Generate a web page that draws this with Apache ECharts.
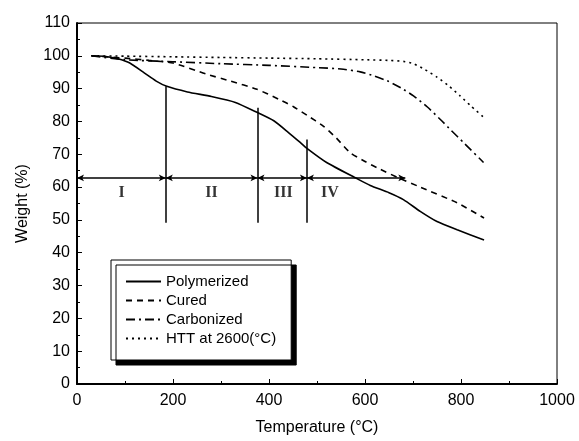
<!DOCTYPE html>
<html>
<head>
<meta charset="utf-8">
<script src="https://cdn.jsdelivr.net/npm/echarts@6/dist/echarts.min.js"></script>
<style>
  html, body { margin: 0; padding: 0; background: #fff; }
  #chart { width: 579px; height: 441px; }
</style>
</head>
<body>
<div id="chart"></div>
<script>
// TGA curves
var polyT = [30, 60, 85, 110, 140, 165, 187, 230, 280, 330, 376, 410, 440, 465, 479, 520, 583, 611, 650, 680, 715, 750, 792, 848];
var polyW = [100, 99.8, 99.1, 97.8, 94.8, 92.3, 90.7, 89, 87.6, 85.8, 82.7, 80.2, 76.7, 73.6, 71.8, 67.5, 62.6, 60.5, 58.3, 56.2, 52.6, 49.5, 47, 43.9];

var curedT = [30, 100, 150, 200, 270, 320, 375, 420, 451, 480, 513, 540, 569, 600, 632, 670, 715, 792, 848];
var curedW = [100, 99.3, 98.6, 97.8, 94.4, 92.3, 89.8, 86.8, 84.5, 81.8, 78.6, 75, 70.5, 67.8, 65.4, 62.8, 60, 55.2, 50.6];

var carbT = [30, 100, 200, 300, 400, 500, 550, 590, 620, 646, 675, 701, 730, 757, 780, 805, 847];
var carbW = [100, 98.8, 98.2, 97.6, 97.1, 96.4, 96, 95.1, 93.8, 92.4, 90.2, 87.8, 84.4, 80.6, 77.2, 73.6, 67.5];

var httT = [30, 100, 200, 300, 400, 500, 600, 650, 680, 701, 725, 750, 775, 798, 820, 848];
var httW = [100, 99.9, 99.7, 99.5, 99.3, 99.1, 98.8, 98.6, 98.3, 97.6, 95.8, 93.5, 90.8, 87.8, 84.8, 81.2];

// stage annotations
var stageEdges = [0, 185, 376, 479, 684];
var dividerTop = [90.7, 84.2, 74.5];
var dividerBottom = 49.1;
var arrowLevel = 62.8;
var stageNames = ['I', 'II', 'III', 'IV'];
var stageLabelX = [93, 280, 430, 527];
var stageLabelY = 58.3;

var seriesNames = ['Polymerized', 'Cured', 'Carbonized', 'HTT at 2600(\u00B0C)'];

function pairs(xs, ys) {
    var out = [];
    for (var i = 0; i < xs.length; i++) out.push([xs[i], ys[i]]);
    return out;
}

function curve(name, xs, ys, dash) {
    return {
        name: name,
        type: 'line',
        data: pairs(xs, ys),
        smooth: 0.2,
        symbol: 'none',
        lineStyle: { color: '#000', width: 1.6, type: dash },
        itemStyle: { color: '#000' },
        z: 3
    };
}

var dividerLines = [];
for (var i = 0; i < dividerTop.length; i++) {
    dividerLines.push([
        { coord: [stageEdges[i + 1], dividerBottom] },
        { coord: [stageEdges[i + 1], dividerTop[i]] }
    ]);
}
var arrowLines = [];
for (var j = 0; j < stageEdges.length - 1; j++) {
    arrowLines.push([
        { coord: [stageEdges[j], arrowLevel] },
        { coord: [stageEdges[j + 1], arrowLevel] }
    ]);
}
var stageLabels = stageNames.map(function (n, k) {
    return { name: n, value: [stageLabelX[k], stageLabelY] };
});

var chart = echarts.init(document.getElementById('chart'), null, { renderer: 'canvas' });
chart.setOption({
    animation: false,
    backgroundColor: '#fff',
    textStyle: { fontFamily: 'Liberation Sans, Arial, sans-serif' },
    grid: {
        left: 77, right: 22, top: 23, bottom: 57,
        show: true, borderColor: '#000', borderWidth: 1
    },
    legend: {
        data: seriesNames,
        orient: 'vertical',
        left: 111, top: 260,
        itemWidth: 35, itemHeight: 15, itemGap: 4,
        padding: [14, 15, 14, 14],
        backgroundColor: '#fff',
        borderColor: '#000', borderWidth: 1,
        shadowColor: '#000', shadowBlur: 0, shadowOffsetX: 5, shadowOffsetY: 5,
        itemStyle: { opacity: 0 },
        textStyle: { fontSize: 15, color: '#000', fontFamily: 'Liberation Sans, Arial, sans-serif' }
    },
    xAxis: {
        type: 'value', min: 0, max: 1000, interval: 200,
        name: 'Temperature (\u00B0C)', nameLocation: 'middle', nameGap: 36,
        nameTextStyle: { fontSize: 16, color: '#000' },
        axisLine: { lineStyle: { color: '#000', width: 2 } },
        axisTick: { inside: true, length: 5, lineStyle: { color: '#000', width: 1 } },
        minorTick: { show: true, splitNumber: 2, length: 3, lineStyle: { color: '#000' } },
        axisLabel: { fontSize: 16, color: '#000', margin: 9, formatter: function (v) { return String(v); } },
        splitLine: { show: false }
    },
    yAxis: {
        type: 'value', min: 0, max: 110, interval: 10,
        name: 'Weight (%)', nameLocation: 'middle', nameGap: 46, nameRotate: 90,
        nameTextStyle: { fontSize: 16, color: '#000' },
        axisLine: { lineStyle: { color: '#000', width: 2 } },
        axisTick: { inside: true, length: 5, lineStyle: { color: '#000', width: 1 } },
        minorTick: { show: true, splitNumber: 2, length: 3, lineStyle: { color: '#000' } },
        axisLabel: { fontSize: 16, color: '#000', margin: 7 },
        splitLine: { show: false }
    },
    series: [
        curve(seriesNames[0], polyT, polyW, 'solid'),
        curve(seriesNames[1], curedT, curedW, [6, 5]),
        curve(seriesNames[2], carbT, carbW, [9, 4, 2, 4]),
        curve(seriesNames[3], httT, httW, [2, 4]),
        {
            name: 'stages',
            type: 'scatter',
            data: stageLabels,
            symbolSize: 0,
            silent: true,
            label: {
                show: true, position: 'inside',
                formatter: '{b}',
                fontFamily: 'Liberation Serif, Times New Roman, serif',
                fontWeight: 'bold', fontSize: 16, color: '#000'
            },
            markLine: {
                silent: true,
                animation: false,
                symbol: ['none', 'none'],
                label: { show: false },
                lineStyle: { color: '#000', width: 1.5, type: 'solid' },
                data: dividerLines
            }
        },
        {
            name: 'arrows',
            type: 'line',
            data: [],
            markLine: {
                silent: true,
                animation: false,
                symbol: ['arrow', 'arrow'],
                symbolSize: [5, 7],
                label: { show: false },
                lineStyle: { color: '#000', width: 1.5, type: 'solid' },
                data: arrowLines
            }
        }
    ]
});
</script>
</body>
</html>
